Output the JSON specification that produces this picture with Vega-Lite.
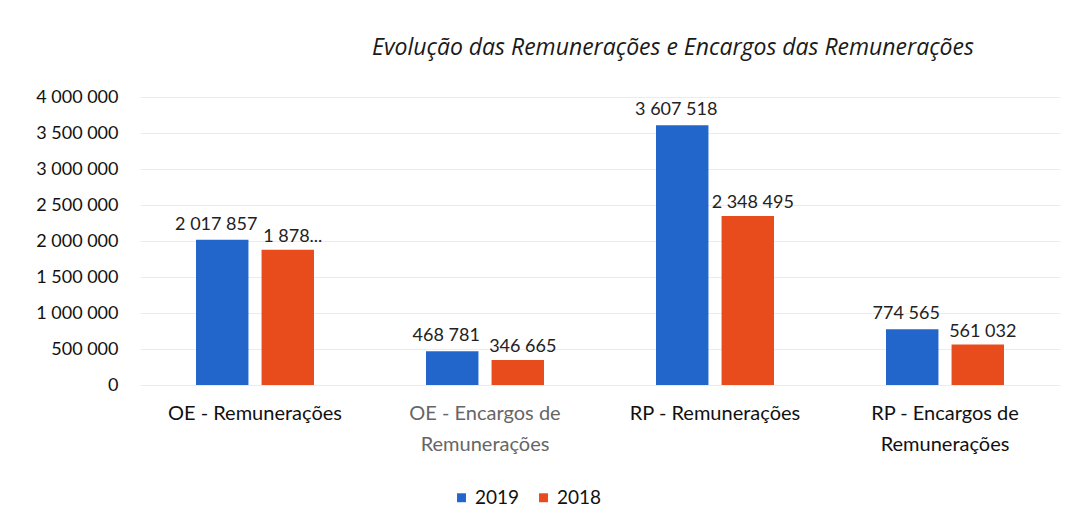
{
  "$schema": "https://vega.github.io/schema/vega-lite/v6.json",
  "autosize": {"type": "none"},
  "width": 920,
  "height": 288,
  "padding": {"left": 140, "top": 97, "right": 17, "bottom": 147},
  "background": "#ffffff",
  "config": {
    "locale": {"number": {"decimal": ",", "thousands": " ", "grouping": [3], "currency": ["", " €"]}},
    "font": "Lato",
    "view": {"stroke": null}
  },
  "title": {
    "text": "Evolução das Remunerações e Encargos das Remunerações",
    "anchor": "start",
    "frame": "group",
    "dx": 232,
    "offset": 28,
    "fontSize": 23,
    "fontStyle": "italic",
    "fontWeight": "normal",
    "color": "#1a1a1a",
    "font": "Open Sans"
  },
  "data": {
    "values": [
      {"categoria": "OE - Remunerações", "ano": "2019", "valor": 2017857, "rotulo": "2 017 857"},
      {"categoria": "OE - Remunerações", "ano": "2018", "valor": 1878000, "rotulo": "1 878..."},
      {"categoria": "OE - Encargos de Remunerações", "ano": "2019", "valor": 468781, "rotulo": "468 781"},
      {"categoria": "OE - Encargos de Remunerações", "ano": "2018", "valor": 346665, "rotulo": "346 665"},
      {"categoria": "RP - Remunerações", "ano": "2019", "valor": 3607518, "rotulo": "3 607 518"},
      {"categoria": "RP - Remunerações", "ano": "2018", "valor": 2348495, "rotulo": "2 348 495"},
      {"categoria": "RP - Encargos de Remunerações", "ano": "2019", "valor": 774565, "rotulo": "774 565"},
      {"categoria": "RP - Encargos de Remunerações", "ano": "2018", "valor": 561032, "rotulo": "561 032"}
    ]
  },
  "encoding": {
    "x": {
      "field": "categoria",
      "type": "nominal",
      "sort": null,
      "scale": {"paddingInner": 0.487, "paddingOuter": 0.2435},
      "axis": {
        "title": null,
        "labelAngle": 0,
        "domain": false,
        "ticks": false,
        "labelPadding": 28,
        "labelFontSize": 20,
        "labelColor": {"condition": {"test": "datum.value == 'OE - Encargos de Remunerações'", "value": "#666666"}, "value": "#111111"},
        "labelLineHeight": 31,
        "labelBaseline": "middle",
        "labelExpr": "datum.value == 'OE - Encargos de Remunerações' ? ['OE - Encargos de', 'Remunerações'] : datum.value == 'RP - Encargos de Remunerações' ? ['RP - Encargos de', 'Remunerações'] : datum.value"
      }
    },
    "xOffset": {
      "field": "ano",
      "type": "nominal",
      "sort": ["2019", "2018"],
      "scale": {"paddingInner": 0.2, "paddingOuter": 0}
    },
    "y": {
      "field": "valor",
      "type": "quantitative",
      "scale": {"domain": [0, 4000000]},
      "axis": {
        "title": null,
        "values": [0, 500000, 1000000, 1500000, 2000000, 2500000, 3000000, 3500000, 4000000],
        "format": ",d",
        "domain": false,
        "ticks": false,
        "labelPadding": 22,
        "labelFontSize": 18,
        "labelColor": "#111111",
        "gridColor": "#ececec",
        "gridWidth": 1
      }
    }
  },
  "layer": [
    {
      "mark": {"type": "bar"},
      "encoding": {
        "color": {
          "field": "ano",
          "type": "nominal",
          "sort": ["2019", "2018"],
          "scale": {"domain": ["2019", "2018"], "range": ["#2266CC", "#E84C1C"]},
          "legend": {
            "title": null,
            "orient": "none",
            "direction": "horizontal",
            "legendX": 312,
            "legendY": 391,
            "symbolType": "square",
            "symbolSize": 80,
            "labelFontSize": 19,
            "labelColor": "#111111",
            "columnPadding": 14,
            "labelOffset": 4
          }
        }
      }
    },
    {
      "transform": [{"filter": "datum.ano == '2019'"}],
      "mark": {"type": "text", "baseline": "bottom", "dy": -6, "dx": -6, "fontSize": 18, "color": "#222222"},
      "encoding": {
        "text": {"field": "rotulo", "type": "nominal"}
      }
    },
    {
      "transform": [{"filter": "datum.ano == '2018'"}],
      "mark": {"type": "text", "baseline": "bottom", "dy": -4, "dx": 5, "fontSize": 18, "color": "#222222"},
      "encoding": {
        "text": {"field": "rotulo", "type": "nominal"}
      }
    }
  ]
}
